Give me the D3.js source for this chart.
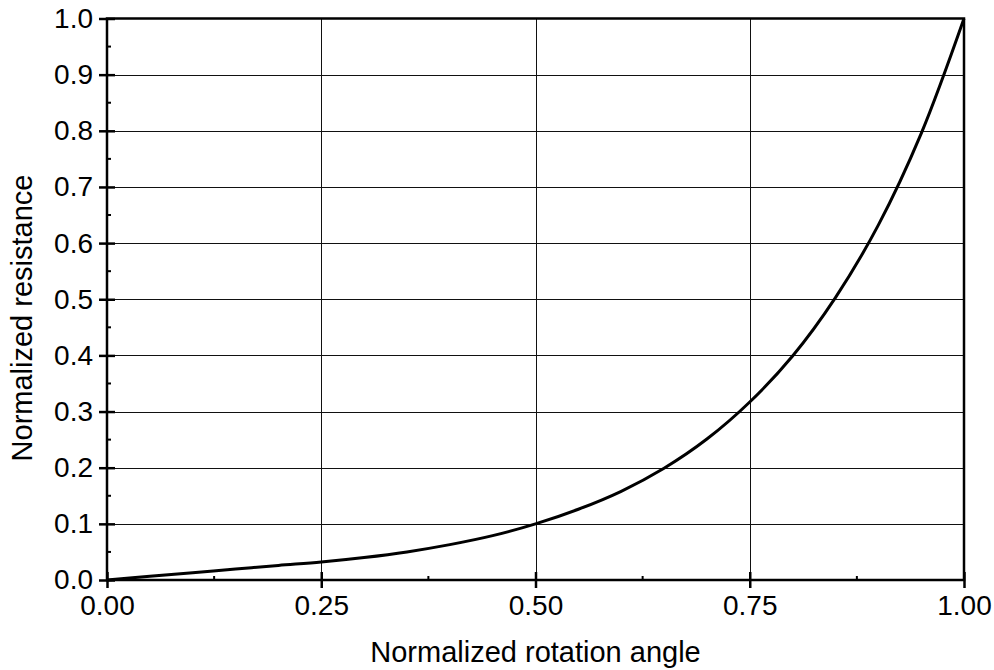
<!DOCTYPE html>
<html>
<head>
<meta charset="utf-8">
<script src="https://cdn.jsdelivr.net/npm/d3@7/dist/d3.min.js"></script>
<style>
  html, body { margin: 0; padding: 0; background: #fff; }
  svg { display: block; font-family: Arial, "Liberation Sans", sans-serif; }
</style>
</head>
<body>
<svg id="chart" width="994" height="670"></svg>
<script>
// Data
const angle = [0, 0.05, 0.10, 0.15, 0.20, 0.25, 0.30, 0.35, 0.40, 0.45, 0.50,
               0.55, 0.60, 0.65, 0.70, 0.75, 0.80, 0.85, 0.90, 0.95, 1.00];
const resistance = [0, 0.0065, 0.013, 0.0195, 0.026, 0.032, 0.040, 0.050, 0.063, 0.079, 0.100,
                    0.126, 0.158, 0.199, 0.251, 0.317, 0.399, 0.503, 0.632, 0.795, 1.000];
const xTicks = [0, 0.25, 0.5, 0.75, 1.0];
const xMinorTicks = [0.125, 0.375, 0.625, 0.875];
const yTicks = [0, 0.1, 0.2, 0.3, 0.4, 0.5, 0.6, 0.7, 0.8, 0.9, 1.0];
const yMinorTicks = [0.05, 0.15, 0.25, 0.35, 0.45, 0.55, 0.65, 0.75, 0.85, 0.95];
const xTitle = "Normalized rotation angle";
const yTitle = "Normalized resistance";

const FONT = "Arial, 'Liberation Sans', sans-serif";
const L = 107, R = 964, T = 18.5, B = 580;
const svg = d3.select("#chart");
const x = d3.scaleLinear().domain([0, 1]).range([L, R]);
const y = d3.scaleLinear().domain([0, 1]).range([B, T]);

// grid
svg.append("g").selectAll("line").data(xTicks.slice(1, -1)).join("line")
  .attr("x1", d => Math.round(x(d)) + 0.5).attr("x2", d => Math.round(x(d)) + 0.5)
  .attr("y1", T).attr("y2", B).attr("stroke", "#111").attr("stroke-width", 1);
svg.append("g").selectAll("line").data(yTicks.slice(1, -1)).join("line")
  .attr("y1", d => Math.round(y(d)) + 0.5).attr("y2", d => Math.round(y(d)) + 0.5)
  .attr("x1", L).attr("x2", R).attr("stroke", "#111").attr("stroke-width", 1);

// curve
const pts = angle.map((a, i) => [a, resistance[i]]);
svg.append("path").datum(pts)
  .attr("d", d3.line().x(d => x(d[0])).y(d => y(d[1])).curve(d3.curveCatmullRom.alpha(0.5)))
  .attr("fill", "none").attr("stroke", "#000").attr("stroke-width", 3);

// frame
svg.append("rect").attr("x", L).attr("y", T).attr("width", R - L).attr("height", B - T)
  .attr("fill", "none").attr("stroke", "#000").attr("stroke-width", 2.5);

// x axis
const xAxis = d3.axisBottom(x).tickValues(xTicks).tickFormat(d3.format(".2f"))
  .tickSizeInner(8).tickSizeOuter(0).tickPadding(7);
const gx = svg.append("g").attr("transform", `translate(0,${B})`).call(xAxis);
gx.select(".domain").remove();
gx.selectAll(".tick line").attr("y1", -8).attr("stroke", "#000").attr("stroke-width", 2.5);
gx.selectAll(".tick text").attr("font-size", 28).attr("fill", "#000").attr("font-family", FONT);
svg.append("g").selectAll("line").data(xMinorTicks).join("line")
  .attr("x1", d => x(d)).attr("x2", d => x(d)).attr("y1", B).attr("y2", B - 4)
  .attr("stroke", "#000").attr("stroke-width", 2);

// y axis
const yAxis = d3.axisLeft(y).tickValues(yTicks).tickFormat(d3.format(".1f"))
  .tickSizeInner(8).tickSizeOuter(0).tickPadding(6);
const gy = svg.append("g").attr("transform", `translate(${L},0)`).call(yAxis);
gy.select(".domain").remove();
gy.selectAll(".tick line").attr("x1", 8).attr("stroke", "#000").attr("stroke-width", 2.5);
gy.selectAll(".tick text").attr("font-size", 28).attr("fill", "#000").attr("font-family", FONT);
svg.append("g").selectAll("line").data(yMinorTicks).join("line")
  .attr("y1", d => y(d)).attr("y2", d => y(d)).attr("x1", L).attr("x2", L + 4)
  .attr("stroke", "#000").attr("stroke-width", 2);

// titles
svg.append("text").attr("x", (L + R) / 2).attr("y", 662).attr("text-anchor", "middle")
  .attr("font-size", 29).attr("fill", "#000").attr("font-family", FONT).text(xTitle);
svg.append("text").attr("transform", `translate(32,318) rotate(-90)`)
  .attr("text-anchor", "middle").attr("font-size", 29).attr("fill", "#000")
  .attr("font-family", FONT).text(yTitle);
</script>
</body>
</html>
